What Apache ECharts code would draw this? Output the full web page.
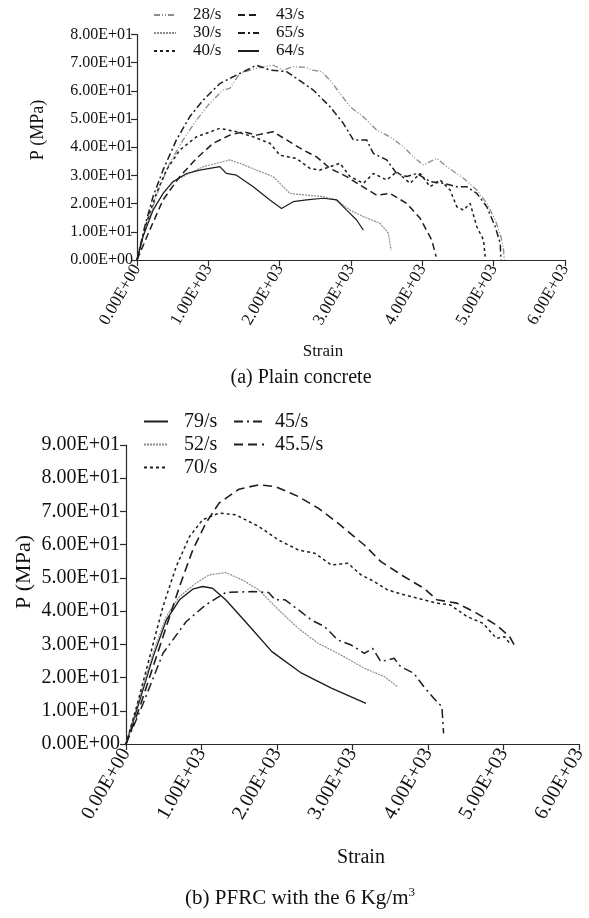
<!DOCTYPE html>
<html>
<head>
<meta charset="utf-8">
<script src="https://cdn.jsdelivr.net/npm/echarts@6/dist/echarts.min.js"></script>
<style>html,body{margin:0;padding:0;background:#fff}#c{width:589px;height:918px}</style>
</head>
<body>
<div id="c"></div>
<script>
// ---------- DATA (strain, P in MPa) ----------
var xTicksTop = [0, 1000, 2000, 3000, 4000, 5000, 6000];
var yTicksTop = [0, 10, 20, 30, 40, 50, 60, 70, 80];
var xTicksBottom = [0, 1000, 2000, 3000, 4000, 5000, 6000];
var yTicksBottom = [0, 10, 20, 30, 40, 50, 60, 70, 80, 90];

var namesTop = ['28/s', '30/s', '40/s', '43/s', '65/s', '64/s'];
var namesBottom = ['79/s', '52/s', '70/s', '45/s', '45.5/s'];

// (a) Plain concrete
var s28 = [[0,0],[84,8.3],[178,15.4],[318,26],[459,34.3],[646,42.6],[833,49.6],[1020,55.6],[1207,60.3],[1301,60.9],[1441,66.2],[1675,68],[1909,69.1],[2050,67.4],[2190,68.6],[2377,68.3],[2448,67.4],[2588,66.8],[2705,63.8],[2845,59.1],[2986,54.4],[3173,50.8],[3360,46.1],[3547,43.7],[3735,40.2],[3875,36.6],[4015,33.7],[4202,36.1],[4343,33.1],[4577,29],[4764,24.8],[4904,20.1],[5022,14.2],[5101,8.3],[5139,3.5],[5148,0]];
var s65 = [[0,0],[108,11.8],[225,22.5],[365,31.9],[552,42.6],[739,50.8],[927,56.7],[1161,62.6],[1395,65.6],[1675,69.1],[1863,67.4],[2097,66.8],[2237,64.4],[2471,60.3],[2705,54.4],[2892,48.5],[3033,42.6],[3220,42.6],[3314,37.8],[3501,35.5],[3641,30.7],[3781,29.6],[3922,30.7],[4109,27.8],[4296,27.2],[4483,26],[4624,26],[4764,23.6],[4904,18.9],[5022,11.8],[5092,5.9],[5101,0]];
var s30 = [[0,0],[84,8.3],[225,17.7],[365,23.6],[505,27.8],[646,29.6],[927,33.1],[1301,35.5],[1441,34.3],[1675,31.9],[1909,29.6],[2143,23.6],[2377,23],[2611,22.5],[2799,21.3],[2986,17.7],[3173,15.4],[3407,13],[3524,9.5],[3561,3.5]];
var s64 = [[0,0],[84,8.3],[225,17.7],[365,23.6],[505,27.8],[693,30.7],[880,31.9],[1020,32.5],[1161,33.1],[1254,30.7],[1395,30.1],[1629,26],[1863,21.3],[2026,18.3],[2190,20.7],[2377,21.3],[2611,21.9],[2799,21.3],[2939,17.7],[3079,14.2],[3173,10.6]];
var s40 = [[0,0],[131,13],[271,23.6],[412,31.9],[599,39],[833,43.7],[1161,46.7],[1395,45.5],[1629,43.7],[1863,41.4],[2003,37.2],[2237,36],[2424,32.5],[2564,31.9],[2705,33.1],[2845,34.3],[2986,29.6],[3173,27.2],[3314,30.7],[3501,28.4],[3641,31.3],[3828,27.2],[3969,30.7],[4109,26],[4249,28.4],[4390,24.8],[4483,18.9],[4577,17.7],[4670,20.1],[4764,11.8],[4858,7.1],[4881,1.2]];
var s43 = [[0,0],[178,10.6],[365,21.3],[599,29.6],[833,36],[1067,41.4],[1301,44.3],[1488,45.5],[1675,44.3],[1909,45.5],[2097,42.6],[2330,39],[2518,36.6],[2705,32.5],[2939,29.6],[3126,26.6],[3360,23],[3547,23.6],[3781,20.1],[3969,14.8],[4132,7.1],[4193,1.2]];

// (b) PFRC 6 Kg/m3
var s79 = [[0,0],[184,13.3],[359,26.3],[534,37.3],[709,43.4],[884,46.6],[1015,47.4],[1146,46.9],[1321,43.4],[1583,36.8],[1933,27.8],[2327,21.3],[2721,16.8],[3180,12.2]];
var s52 = [[0,0],[184,14.3],[359,27.3],[534,38.4],[709,44.4],[927,48.4],[1102,50.9],[1321,51.6],[1540,49.4],[1758,46.4],[2021,40.4],[2283,34.8],[2546,30.3],[2808,27.3],[3158,22.8],[3421,20.3],[3596,17.3]];
var s70 = [[0,0],[140,11.2],[315,26.3],[490,41.4],[665,53.4],[840,62.4],[1015,67.5],[1233,69.5],[1452,69],[1758,65.5],[2021,61.4],[2283,58.4],[2502,57.4],[2721,53.9],[2939,54.4],[3114,50.9],[3289,48.9],[3464,46.4],[3683,44.9],[3945,43.4],[4120,42.4],[4295,41.9],[4514,38.4],[4733,36.3],[4908,31.8],[5017,32.3],[5083,30.3]];
var s45 = [[0,0],[227,12.2],[490,27.3],[796,36.8],[1058,41.9],[1321,45.6],[1671,45.9],[1890,45.6],[1977,43.4],[2108,43.4],[2283,40.4],[2458,37.3],[2633,35.3],[2808,31.3],[2983,29.8],[3158,27.3],[3267,28.8],[3377,24.8],[3552,25.8],[3639,23.3],[3814,21.3],[3945,17.3],[4077,13.8],[4186,11.2],[4208,3.2]];
var s455 = [[0,0],[184,11.2],[359,23.3],[534,35.3],[709,47.4],[884,58.4],[1058,66.5],[1233,72.5],[1496,76.7],[1758,78],[1977,77.5],[2283,74.5],[2546,71],[2808,66.5],[3158,59.9],[3377,54.9],[3683,50.4],[3945,46.9],[4120,43.4],[4383,42.4],[4645,39.4],[4908,35.8],[5083,32.3],[5170,28.8]];

// ---------- CHART ----------
function sci(v){
  if (v === 0) return '0.00E+00';
  var e = Math.floor(Math.log10(Math.abs(v)));
  var m = v / Math.pow(10, e);
  return m.toFixed(2) + 'E' + (e < 0 ? '-' : '+') + String(Math.abs(e)).padStart(2, '0');
}
var FONT = '"Liberation Serif", "Times New Roman", serif';
var GRAY = '#8c8c8c', BLACK = '#1e1e1e', AX = '#2a2a2a';

function axisCommon(fs, rotate, margin){
  return {
    axisLine: {show: true, lineStyle: {color: AX, width: 1.2}},
    axisTick: {show: true, inside: false, length: 6, lineStyle: {color: AX, width: 1.2}},
    splitLine: {show: false},
    axisLabel: {color: '#111', fontFamily: FONT, fontSize: fs, formatter: sci, rotate: rotate || 0, margin: margin}
  };
}
function mkX(idx, ticks, fs){
  var a = axisCommon(fs, 60, 6);
  a.type = 'value'; a.gridIndex = idx; a.min = ticks[0]; a.max = ticks[ticks.length-1];
  a.interval = ticks[1] - ticks[0];
  return a;
}
function mkY(idx, ticks, fs, margin){
  var a = axisCommon(fs, 0, margin);
  a.type = 'value'; a.gridIndex = idx; a.min = ticks[0]; a.max = ticks[ticks.length-1];
  a.interval = ticks[1] - ticks[0];
  return a;
}
function ser(name, data, gi, color, dash, w){
  return {
    name: name, type: 'line', data: data, xAxisIndex: gi, yAxisIndex: gi,
    symbol: 'none', showSymbol: false, smooth: false, animation: false,
    lineStyle: {color: color, width: w || 1.3, type: dash},
    itemStyle: {color: color}
  };
}

var seriesList = [
  ser('28/s', s28, 0, GRAY, [6,2,1,2,1,2], 1.3),
  ser('30/s', s30, 0, GRAY, [2,1], 1.2),
  ser('40/s', s40, 0, BLACK, [3,3], 1.5),
  ser('43/s', s43, 0, BLACK, [7,4], 1.5),
  ser('65/s', s65, 0, BLACK, [7,3,2,3], 1.5),
  ser('64/s', s64, 0, BLACK, 'solid', 1.2),
  ser('79/s', s79, 1, BLACK, 'solid', 1.4),
  ser('52/s', s52, 1, GRAY, [2,1], 1.2),
  ser('70/s', s70, 1, BLACK, [3,3], 1.5),
  ser('45/s', s45, 1, BLACK, [9,4,2,4], 1.5),
  ser('45.5/s', s455, 1, BLACK, [9,5], 1.6)
];

function legend(names, left, top, iw, fs, lh, pad){
  return {
    data: names, orient: 'vertical', left: left, top: top,
    itemWidth: iw, itemHeight: 10, itemGap: 0, padding: 0,
    selectedMode: false,
    itemStyle: {opacity: 0},
    textStyle: {fontFamily: FONT, fontSize: fs, color: '#111', lineHeight: lh, padding: [0,0,0,pad]}
  };
}

var chart = echarts.init(document.getElementById('c'), null, {renderer: 'canvas'});
chart.setOption({
  backgroundColor: '#fff',
  animation: false,
  grid: [
    {left: 137, top: 34.5, width: 428, height: 225.5},
    {left: 126, top: 445, width: 457, height: 299}
  ],
  xAxis: [mkX(0, xTicksTop, 17), mkX(1, xTicksBottom, 20)],
  yAxis: [mkY(0, yTicksTop, 16, 4), mkY(1, yTicksBottom, 20, 6)],
  legend: [
    legend(namesTop.slice(0,3), 153, 6, 22, 17, 18, 12),
    legend(namesTop.slice(3,6), 237, 6, 21, 17, 18, 12),
    legend(namesBottom.slice(0,3), 143, 410, 24, 20, 23, 11),
    legend(namesBottom.slice(3,5), 233, 410, 30, 20, 23, 6)
  ],
  series: seriesList,
  graphic: [
    {type: 'text', x: 38, y: 130, rotation: Math.PI/2, style: {text: 'P (MPa)', font: '18px ' + FONT, fill: '#111', textAlign: 'center', textVerticalAlign: 'middle'}},
    {type: 'text', x: 323, y: 352, style: {text: 'Strain', font: '17px ' + FONT, fill: '#111', textAlign: 'center', textVerticalAlign: 'middle'}},
    {type: 'text', x: 301, y: 378, style: {text: '(a) Plain concrete', font: '20px ' + FONT, fill: '#111', textAlign: 'center', textVerticalAlign: 'middle'}},
    {type: 'text', x: 24, y: 572, rotation: Math.PI/2, style: {text: 'P (MPa)', font: '22px ' + FONT, fill: '#111', textAlign: 'center', textVerticalAlign: 'middle'}},
    {type: 'text', x: 361, y: 858, style: {text: 'Strain', font: '20px ' + FONT, fill: '#111', textAlign: 'center', textVerticalAlign: 'middle'}},
    {type: 'text', x: 300, y: 898, style: {
      text: '{a|(b) PFRC with the 6 Kg/m}{s|3}',
      textAlign: 'center', textVerticalAlign: 'middle',
      rich: {
        a: {fontFamily: FONT, fontSize: 21, fill: '#111', color: '#111'},
        s: {fontFamily: FONT, fontSize: 13, fill: '#111', color: '#111', verticalAlign: 'top', padding: [0,0,10,0]}
      }
    }}
  ]
});
</script>
</body>
</html>
